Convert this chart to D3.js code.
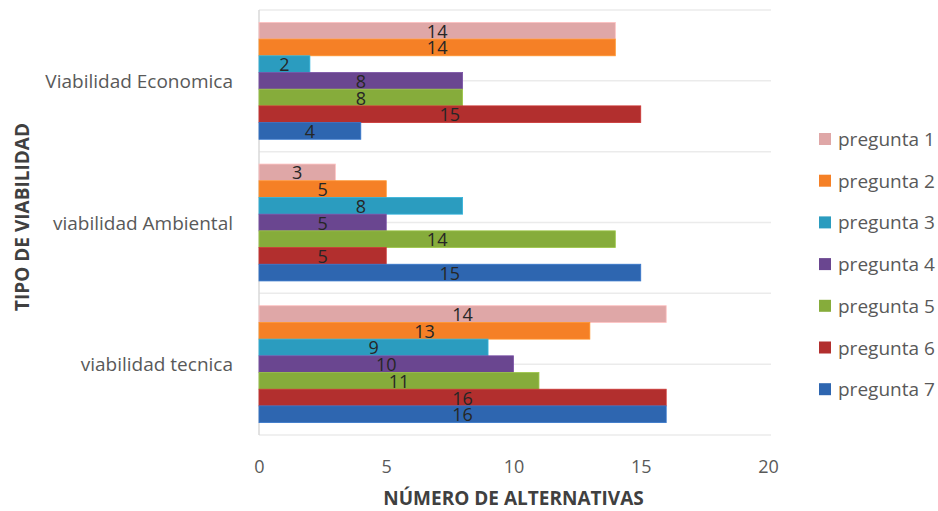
<!DOCTYPE html>
<html>
<head>
<meta charset="utf-8">
<script src="https://cdn.jsdelivr.net/npm/d3@7"></script>
<style>
  body { margin: 0; background: #fff; }
  text { font-family: "Open Sans", sans-serif; }
</style>
</head>
<body>
<div id="chart"></div>
<script>
// datos
var categorias = ["Viabilidad Economica", "viabilidad Ambiental", "viabilidad tecnica"],
    series = ["pregunta 1", "pregunta 2", "pregunta 3", "pregunta 4", "pregunta 5", "pregunta 6", "pregunta 7"],
    colores = ["#DFA7A7", "#F58026", "#2B9CBF", "#6A4690", "#86AC3B", "#B22F2E", "#2E66B0"];

// valores por pregunta (orden de categorias)
var pregunta1 = [14, 3, 16],
    pregunta2 = [14, 5, 13],
    pregunta3 = [2, 8, 9],
    pregunta4 = [8, 5, 10],
    pregunta5 = [8, 14, 11],
    pregunta6 = [15, 5, 16],
    pregunta7 = [4, 15, 16];

// etiquetas mostradas (la primera de tecnica dice 14 en el original)
var etiquetas1 = ["14", "3", "14"];

var xTicks = [0, 5, 10, 15, 20];

var valores = [pregunta1, pregunta2, pregunta3, pregunta4, pregunta5, pregunta6, pregunta7];

var w = 938, h = 511,
    margin = {top: 10, right: 170, bottom: 76, left: 259};

var svg = d3.select("#chart").append("svg")
    .attr("width", w)
    .attr("height", h);

var width = 768 - margin.left,
    height = h - margin.top - margin.bottom;

var g = svg.append("g").attr("transform", "translate(" + margin.left + "," + margin.top + ")");

var x = d3.scaleLinear().domain([0, 20]).range([0, width]);

var y0 = d3.scaleBand()
    .domain(categorias)
    .range([0, height])
    .paddingInner(0.175)
    .paddingOuter(0.0875);

var y1 = d3.scaleBand()
    .domain(series)
    .range([0, y0.bandwidth()]);

// lineas de division
var step = y0.step(), pad = step * y0.paddingInner() / 2;
var gridY = [];
categorias.forEach(function(c) {
    gridY.push(y0(c) - pad);
    gridY.push(y0(c) + y0.bandwidth() / 2);
});
gridY.push(height);

g.selectAll(".grid").data(gridY).enter().append("line")
    .attr("class", "grid")
    .attr("x1", 0).attr("x2", width + 3)
    .attr("y1", function(d) { return d; })
    .attr("y2", function(d) { return d; })
    .attr("stroke", "#ebebeb")
    .attr("stroke-width", 1.5);

// eje vertical
g.append("line")
    .attr("x1", 0).attr("x2", 0)
    .attr("y1", 0).attr("y2", height)
    .attr("stroke", "#d9d9d9")
    .attr("stroke-width", 1.5);

// barras
var datos = [];
categorias.forEach(function(c, i) {
    series.forEach(function(s, j) {
        var lab = j == 0 ? etiquetas1[i] : String(valores[j][i]);
        datos.push({cat: c, serie: s, valor: valores[j][i], color: colores[j], label: lab});
    });
});

var grupos = g.selectAll(".bar").data(datos).enter().append("g")
    .attr("class", "bar")
    .attr("transform", function(d) { return "translate(0," + (y0(d.cat) + y1(d.serie)) + ")"; });

grupos.append("rect")
    .attr("x", 0)
    .attr("y", 0)
    .attr("width", function(d) { return x(d.valor); })
    .attr("height", y1.bandwidth())
    .attr("fill", function(d) { return d.color; })
    .attr("stroke", function(d) { return d3.color(d.color).brighter(0.4); })
    .attr("stroke-width", 0.8);

grupos.append("text")
    .attr("x", function(d) { return x(d.valor) / 2; })
    .attr("y", y1.bandwidth() / 2 + 7)
    .attr("text-anchor", "middle")
    .attr("font-size", "18px")
    .attr("fill", "#262626")
    .text(function(d) { return d.label; });

// etiquetas de categoria
g.selectAll(".cat").data(categorias).enter().append("text")
    .attr("class", "cat")
    .attr("x", -26)
    .attr("y", function(d) { return y0(d) + y0.bandwidth() / 2 + 7; })
    .attr("text-anchor", "end")
    .attr("font-size", "19px")
    .attr("fill", "#595959")
    .text(function(d) { return d; });

// eje x
var xAxis = d3.axisBottom(x).tickValues(xTicks).tickSize(0).tickPadding(0);
var ax = g.append("g")
    .attr("transform", "translate(0," + (height + 25) + ")")
    .call(xAxis);
ax.select(".domain").remove();
ax.selectAll("text")
    .attr("font-size", "18px")
    .attr("fill", "#595959")
    .style("font-family", "Open Sans, sans-serif");

// titulos
svg.append("text")
    .attr("x", margin.left + width / 2)
    .attr("y", 505)
    .attr("text-anchor", "middle")
    .attr("font-size", "19px")
    .attr("font-weight", "bold")
    .attr("fill", "#404040")
    .text("NÚMERO  DE ALTERNATIVAS");

svg.append("text")
    .attr("transform", "translate(29," + 217 + ") rotate(-90)")
    .attr("text-anchor", "middle")
    .attr("font-size", "19px")
    .attr("font-weight", "bold")
    .attr("fill", "#404040")
    .text("TIPO DE VIABILIDAD");

// leyenda
var leyenda = svg.selectAll(".ley").data(series).enter().append("g")
    .attr("class", "ley")
    .attr("transform", function(d, i) { return "translate(819," + (139 + i * 41.7) + ")"; });

leyenda.append("rect")
    .attr("x", 0).attr("y", -6)
    .attr("width", 12).attr("height", 12)
    .attr("fill", function(d, i) { return colores[i]; });

leyenda.append("text")
    .attr("x", 19)
    .attr("y", 7)
    .attr("font-size", "19px")
    .attr("fill", "#595959")
    .text(function(d) { return d; });
</script>
</body>
</html>
